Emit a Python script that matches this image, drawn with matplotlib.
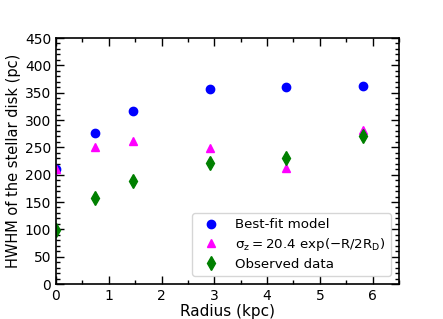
import matplotlib
matplotlib.use("Agg")
import matplotlib.pyplot as plt
from matplotlib.ticker import MultipleLocator

radius = [0.0, 0.73, 1.45, 2.91, 4.36, 5.82]
best_fit = [210, 277, 317, 357, 360, 362]
sigma_model = [210, 250, 262, 248, 212, 281]
observed = [98, 157, 189, 222, 231, 270]

fig = plt.figure(figsize=(4.43, 3.19), dpi=100)
ax = fig.add_axes([56/443, 1-284/319, (399-56)/443, (284-38)/319])

ax.plot(radius, best_fit, 'o', color='blue', ms=6, label='Best-fit model')
ax.plot(radius, sigma_model, '^', color='magenta', ms=6,
        label=r'$\mathrm{\sigma_z = 20.4\ exp(-R/2R_D)}$')
ax.plot(radius, observed, 'd', color='green', ms=7, label='Observed data')

ax.set_xlim(0, 6.5)
ax.set_ylim(0, 450)
ax.xaxis.set_major_locator(MultipleLocator(1))
ax.xaxis.set_minor_locator(MultipleLocator(0.5))
ax.yaxis.set_major_locator(MultipleLocator(50))
ax.yaxis.set_minor_locator(MultipleLocator(10))
ax.tick_params(which='both', direction='in', top=True, right=True, labelsize=10)
ax.tick_params(which='major', length=6, width=1)
ax.tick_params(which='minor', length=3, width=1)
for s in ax.spines.values():
    s.set_linewidth(1.2)

ax.set_xlabel('Radius (kpc)', fontsize=11, labelpad=1)
ax.set_ylabel('HWHM of the stellar disk (pc)', fontsize=10.5, labelpad=3)

ax.legend(loc='lower right', fontsize=9.6, handletextpad=0.77, handlelength=2.06,
          borderaxespad=0.6, labelspacing=0.35, borderpad=0.4)

fig.savefig('out.png', dpi=100)
